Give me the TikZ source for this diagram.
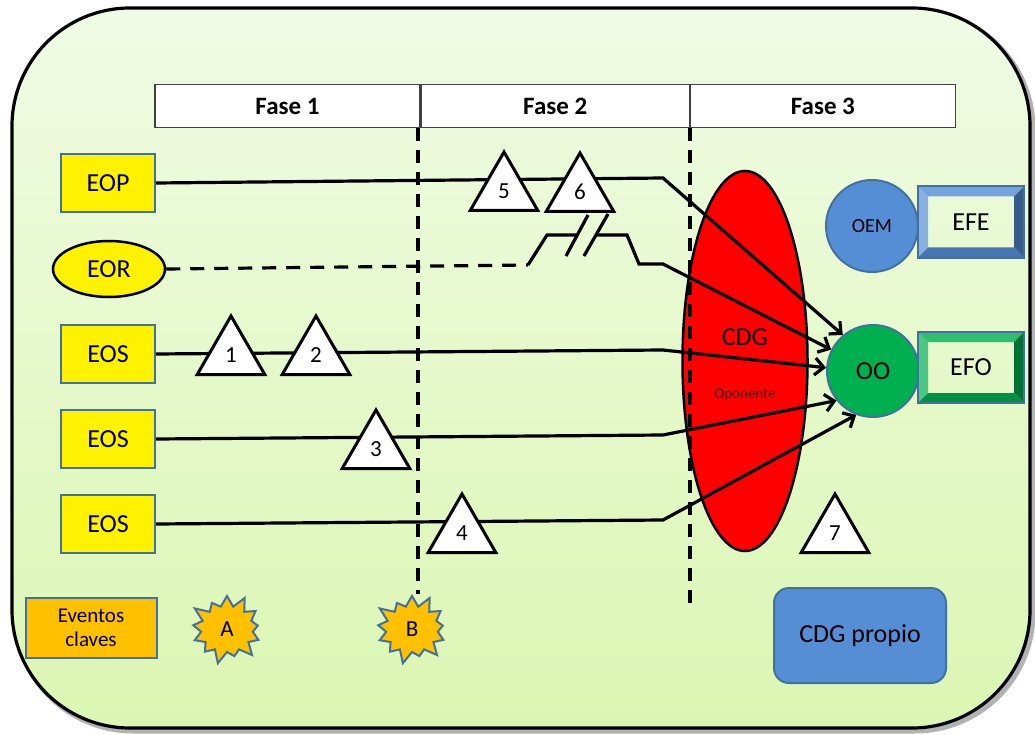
\documentclass[tikz,border=0pt]{standalone}
\usepackage{fontspec}
\setmainfont{Carlito}
\usepackage{tikz}
\usetikzlibrary{shapes.geometric,shapes.symbols,arrows.meta}

\definecolor{bgtop}{HTML}{F0FBE4}
\definecolor{bgbot}{HTML}{DBF6B2}
\definecolor{edgeblue}{HTML}{41719C}
\definecolor{ppblue}{HTML}{558ED5}
\definecolor{ppgreen}{HTML}{00B050}
\definecolor{ppgold}{HTML}{FFC000}

\tikzset{
  lbl/.style={font=\fontsize{26}{30}\selectfont},
  fase/.style={draw=black!75, line width=1.2pt, fill=white, minimum height=43pt, font=\bfseries\fontsize{25}{30}\selectfont},
  ebox/.style={draw=edgeblue, line width=2pt, fill=yellow, minimum width=94pt, minimum height=58pt, lbl},
  tri/.style={regular polygon, regular polygon sides=3, draw, line width=3pt, fill=white, minimum size=78pt, inner sep=0pt, font=\fontsize{23}{26}\selectfont},
  evento/.style={starburst, starburst points=13, starburst point height=14pt, draw=edgeblue, line width=2pt, fill=ppgold, minimum width=80pt, minimum height=74pt, inner sep=0pt, font=\fontsize{23}{26}\selectfont},
  obj/.style={circle, draw=edgeblue, line width=2pt, minimum size=92pt, inner sep=0pt},
  efbox/.style={draw=edgeblue, line width=2pt, minimum width=104pt, minimum height=69pt, lbl},
  link/.style={line width=3.2pt},
  tip/.style={-{Straight Barb[length=9pt,width=17pt]}},
  phase/.style={line width=3.2pt, dash pattern=on 13pt off 9pt},
}

% bevelled button look on a rectangle node
\newcommand{\bevel}[2]{%
  \fill[#2!70!white] (#1.north west) -- (#1.south west) -- ([shift={(10,-10)}]#1.south west) -- ([shift={(10,10)}]#1.north west) -- cycle;
  \fill[#2!82!white] (#1.north west) -- (#1.north east) -- ([shift={(-10,10)}]#1.north east) -- ([shift={(10,10)}]#1.north west) -- cycle;
  \fill[#2!65!black] (#1.north east) -- (#1.south east) -- ([shift={(-10,-10)}]#1.south east) -- ([shift={(-10,10)}]#1.north east) -- cycle;
  \fill[#2!82!black] (#1.south west) -- (#1.south east) -- ([shift={(-10,-10)}]#1.south east) -- ([shift={(10,-10)}]#1.south west) -- cycle;
  \draw[edgeblue, line width=2pt] (#1.north west) rectangle (#1.south east);
}

\begin{document}
\begin{tikzpicture}[x=1pt,y=-1pt]
  \useasboundingbox (0,0) rectangle (1035,735);

  % frame
  \draw[black!30, line width=5pt, rounded corners=118pt] (15,11) rectangle (1033,731);
  \draw[line width=3.2pt, rounded corners=118pt, top color=bgtop, bottom color=bgbot] (12,8) rectangle (1030,728);

  % phases
  \node[fase, minimum width=265pt] (f1) at (287.5,106) {Fase 1};
  \node[fase, minimum width=268pt, anchor=west] (f2) at (f1.east) {Fase 2};
  \node[fase, minimum width=265pt, anchor=west] (f3) at (f2.east) {Fase 3};

  % centre of gravity of the opponent
  \node[ellipse, draw, line width=2.5pt, fill=red, minimum width=125pt, minimum height=380pt] (cdg) at (745,361) {};
  \node[lbl] (cdgtxt) at (745,337) {CDG};
  \node[font=\fontsize{15}{18}\selectfont, text=black!80!red] (opo) at (745,395) {Oponente};

  % lines of effort
  \node[ebox] (eop) at (108,183) {EOP};
  \node[ellipse, draw, line width=2.5pt, fill=yellow, minimum width=112pt, minimum height=56pt, inner sep=0pt, lbl] (eor) at (109,269) {EOR};
  \node[ebox] (eos1) at (108,354) {EOS};
  \node[ebox] (eos2) at (108,439) {EOS};
  \node[ebox] (eos3) at (108,524) {EOS};
  \node[draw=edgeblue, line width=2pt, fill=ppgold, minimum width=131pt, minimum height=60pt, align=center, font=\fontsize{21}{24}\selectfont] (evk) at (91,628) {Eventos\\claves};

  % objectives and end states
  \node[obj, fill=ppblue, font=\fontsize{20}{24}\selectfont] (oem) at (872,226) {OEM};
  \node[obj, fill=ppgreen, lbl] (oo) at (873,371) {OO};
  \node[efbox] (efe) at (971,222) {};
  \bevel{efe}{ppblue}
  \node[lbl] at (efe) {EFE};
  \node[efbox] (efo) at (971,367.5) {};
  \bevel{efo}{ppgreen}
  \node[lbl] at (efo) {EFO};

  \coordinate (b1) at (663,178);
  \coordinate (r1) at (528,265);
  \coordinate (r2) at (547,235);
  \coordinate (r3) at (577,235);
  \coordinate (r4) at (596,235);
  \coordinate (r5) at (627,235);
  \coordinate (r6) at (639,264);
  \coordinate (r7) at (663,264);
  \coordinate (b3) at (663,350);
  \coordinate (b4) at (663,435);
  \coordinate (b5) at (663,520);

  \draw[link, tip] (eop.east) -- (b1) -- (oo.130);
  \draw[link, dash pattern=on 14pt off 10pt] (eor.east) -- (r1);
  \draw[link] (r1) -- (r2) -- (r3);
  \draw[link, tip] (r4) -- (r5) -- (r6) -- (r7) -- (oo.153);
  \draw[link] (588,215) -- (566,256) (608,214) -- (584,256);
  \draw[link, tip] (eos1.east) -- (b3) -- (oo.176);
  \draw[link, tip] (eos2.east) -- (b4) -- (oo.219);
  \draw[link, tip] (eos3.east) -- (b5) -- (oo.249);

  % phase limits
  \coordinate (cut1) at (418,594);
  \coordinate (cut2) at (690,612);
  \draw[phase] (f1.south east -| cut1) -- (cut1);
  \draw[phase] (f2.south east -| cut2) -- (cut2);

  % decisive points
  \node[tri] (d1) at (231,355) {1};
  \node[tri] (d2) at (316,355) {2};
  \node[tri] (d3) at (376,449) {3};
  \node[tri] (d4) at (462,533) {4};
  \node[tri] (d5) at (504,191) {5};
  \node[tri] (d6) at (580,192) {6};
  \node[tri] (d7) at (835,533) {7};

  % key events
  \node[evento] (evA) at (227,629) {A};
  \node[evento] (evB) at (412,629) {B};

  \node[draw=edgeblue, line width=2pt, fill=ppblue, rounded corners=15pt, minimum width=172pt, minimum height=95pt, lbl] (cdgp) at (860,635.5) {CDG propio};
\end{tikzpicture}
\end{document}
